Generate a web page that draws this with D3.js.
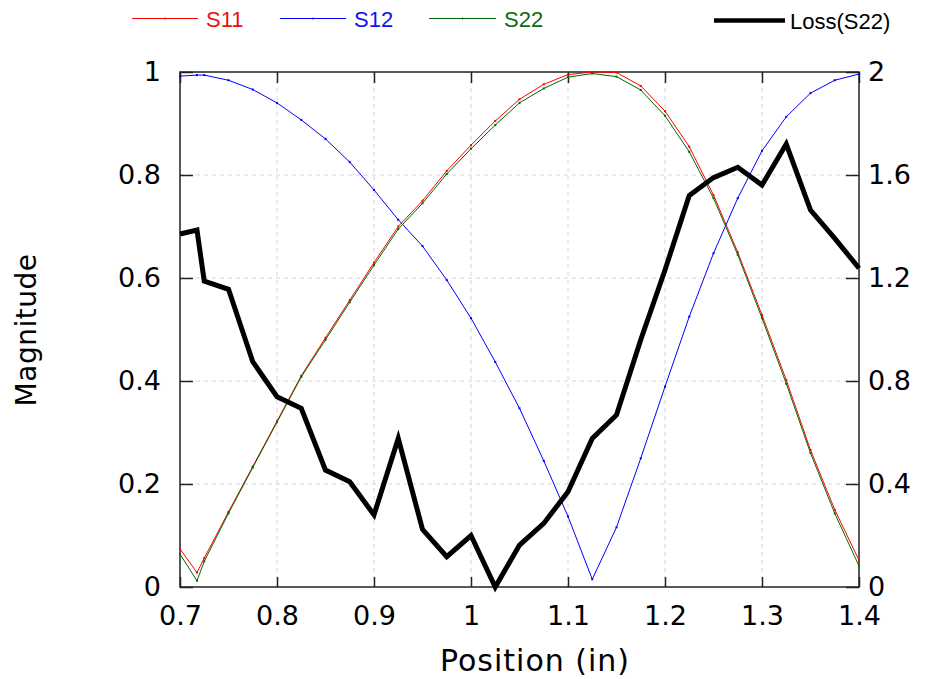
<html>
<head>
  <script src="https://d3js.org/d3.v7.min.js"></script>
  <style>
    body { margin: 0; background: #fff; }
  </style>
</head>
<body>
  <svg id="chart" width="930" height="679"></svg>
  <script>

  // position (in) of each sample
  const positions = [0.7, 0.7175, 0.725, 0.75, 0.775, 0.8, 0.825, 0.85, 0.875, 0.9, 0.925, 0.95, 0.975, 1.0,
    1.025, 1.05, 1.075, 1.1, 1.125, 1.15, 1.175, 1.2, 1.225, 1.25, 1.275, 1.3, 1.325, 1.35, 1.375, 1.4];
  const s11 = [0.074, 0.028, 0.056, 0.146, 0.234, 0.322, 0.41, 0.484, 0.557, 0.63, 0.70, 0.75, 0.808, 0.858,
    0.905, 0.947, 0.976, 0.995, 1.0, 0.999, 0.973, 0.924, 0.855, 0.761, 0.65, 0.528, 0.402, 0.266, 0.15, 0.052];
  const s12 = [0.992, 0.994, 0.994, 0.984, 0.966, 0.94, 0.907, 0.87, 0.825, 0.771, 0.713, 0.662, 0.596, 0.522,
    0.437, 0.347, 0.245, 0.137, 0.015, 0.116, 0.25, 0.389, 0.525, 0.648, 0.755, 0.847, 0.913, 0.959, 0.984, 0.996];
  const s22 = [0.064, 0.012, 0.05, 0.143, 0.232, 0.32, 0.408, 0.48, 0.553, 0.625, 0.695, 0.745, 0.802, 0.851,
    0.897, 0.94, 0.968, 0.99, 0.997, 0.991, 0.965, 0.915, 0.845, 0.755, 0.645, 0.522, 0.395, 0.26, 0.143, 0.041];
  const lossS22 = [1.371, 1.386, 1.188, 1.156, 0.875, 0.739, 0.694, 0.454, 0.409, 0.28, 0.577, 0.224, 0.118, 0.2,
    0.0, 0.163, 0.247, 0.37, 0.577, 0.668, 0.96, 1.231, 1.52, 1.59, 1.63, 1.561, 1.72, 1.464, 1.354, 1.238];

  const xTicks = [0.7, 0.8, 0.9, 1.0, 1.1, 1.2, 1.3, 1.4];
  const yLeftTicks = [0, 0.2, 0.4, 0.6, 0.8, 1];
  const yRightTicks = [0, 0.4, 0.8, 1.2, 1.6, 2];

  const plotLeft = 180, plotRight = 859, plotTop = 72, plotBottom = 587;
  const tickFont = "'Comic Sans MS', 'DejaVu Sans', sans-serif";

  const svg = d3.select("#chart");
  const x = d3.scaleLinear().domain([0.7, 1.4]).range([plotLeft, plotRight]);
  const yL = d3.scaleLinear().domain([0, 1]).range([plotBottom, plotTop]);
  const yR = d3.scaleLinear().domain([0, 2]).range([plotBottom, plotTop]);

  // grid
  const grid = svg.append("g").attr("stroke", "#d4d4d4").attr("stroke-width", 1).attr("stroke-dasharray", "4,4");
  grid.selectAll(".gx").data(xTicks.slice(1, -1)).join("line")
    .attr("x1", d => x(d)).attr("x2", d => x(d)).attr("y1", plotTop).attr("y2", plotBottom);
  grid.selectAll(".gy").data(yLeftTicks.slice(1, -1)).join("line")
    .attr("y1", d => yL(d)).attr("y2", d => yL(d)).attr("x1", plotLeft).attr("x2", plotRight);

  function styleAxis(g){
    g.select(".domain").remove();
    g.selectAll(".tick line").attr("stroke", "#222").attr("stroke-width", 1.5);
    g.selectAll("text").attr("font-family", tickFont).attr("font-size", 27).attr("fill", "#000");
  }

  svg.append("g").attr("transform", `translate(0,${plotBottom})`)
    .call(d3.axisBottom(x).tickValues(xTicks).tickSize(-10).tickPadding(19).tickFormat(d3.format("")))
    .call(styleAxis);
  svg.append("g").attr("transform", `translate(0,${plotTop})`)
    .call(d3.axisTop(x).tickValues(xTicks).tickSize(-11).tickFormat(""))
    .call(styleAxis);
  svg.append("g").attr("transform", `translate(${plotLeft},0)`)
    .call(d3.axisLeft(yL).tickValues(yLeftTicks).tickSize(-13).tickPadding(19).tickFormat(d3.format("")))
    .call(styleAxis);
  svg.append("g").attr("transform", `translate(${plotRight},0)`)
    .call(d3.axisRight(yR).tickValues(yRightTicks).tickSize(-13).tickPadding(9).tickFormat(d3.format("")))
    .call(styleAxis);

  svg.append("rect").attr("x", plotLeft).attr("y", plotTop)
    .attr("width", plotRight - plotLeft).attr("height", plotBottom - plotTop)
    .attr("fill", "none").attr("stroke", "#222").attr("stroke-width", 1.5);

  // curves
  const series = [
    {name: "S11", values: s11, color: "#ff0000", scale: yL, width: 1},
    {name: "S12", values: s12, color: "#0000ff", scale: yL, width: 1},
    {name: "S22", values: s22, color: "#006a00", scale: yL, width: 1},
    {name: "Loss(S22)", values: lossS22, color: "#000", scale: yR, width: 5}
  ];

  series.forEach(s => {
    const line = d3.line().x((d, i) => x(positions[i])).y(d => s.scale(d));
    svg.append("path").datum(s.values)
      .attr("d", line)
      .attr("fill", "none")
      .attr("stroke", s.color)
      .attr("stroke-width", s.width)
      .attr("stroke-linejoin", "miter");
    if (s.width == 1){
      svg.append("g").selectAll("rect").data(s.values).join("rect")
        .attr("x", (d, i) => x(positions[i]) - 1).attr("y", d => s.scale(d) - 1)
        .attr("width", 2).attr("height", 2).attr("fill", s.color);
    }
  });

  // legend
  const legendX = [132, 280, 429, 714];
  const legendLen = [66, 66, 67, 71];
  const legendText = ["#e81010", "#1010f0", "#106a10", "#000"];
  series.forEach((s, i) => {
    const g = svg.append("g");
    const ly = i == 3 ? 20.5 : 18.5;
    g.append("line").attr("x1", legendX[i]).attr("x2", legendX[i] + legendLen[i])
      .attr("y1", ly).attr("y2", ly)
      .attr("stroke", s.color).attr("stroke-width", i == 3 ? 4.5 : 1);
    if (i < 3){
      g.append("line").attr("x1", legendX[i] + legendLen[i] / 2).attr("x2", legendX[i] + legendLen[i] / 2)
        .attr("y1", ly - 1).attr("y2", ly + 1).attr("stroke", s.color).attr("stroke-width", 1);
    }
    g.append("text")
      .attr("x", legendX[i] + legendLen[i] + (i == 3 ? 5 : 8))
      .attr("y", i == 3 ? 29 : 27)
      .attr("font-family", "'Liberation Sans', Arial, sans-serif")
      .attr("font-size", 22)
      .attr("fill", legendText[i])
      .text(s.name);
  });

  // axis titles
  svg.append("text").attr("x", 535).attr("y", 671).attr("text-anchor", "middle")
    .attr("font-family", tickFont).attr("font-size", 30).attr("letter-spacing", 1).text("Position (in)");
  svg.append("text").attr("transform", `translate(36,330) rotate(-90)`).attr("text-anchor", "middle")
    .attr("font-family", tickFont).attr("font-size", 28).attr("letter-spacing", 0.5).text("Magnitude");

  </script>
</body>
</html>
